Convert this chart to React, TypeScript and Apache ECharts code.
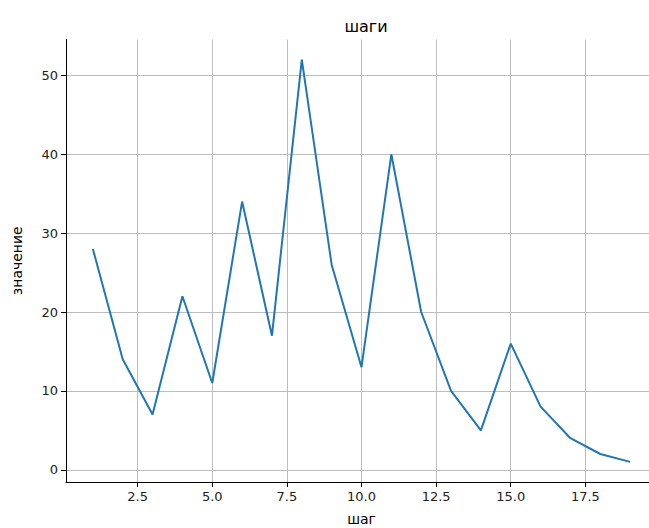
import React, { useEffect, useRef } from "react";
import * as echarts from "echarts";

const steps = [1, 2, 3, 4, 5, 6, 7, 8, 9, 10, 11, 12, 13, 14, 15, 16, 17, 18, 19];
const values = [28, 14, 7, 22, 11, 34, 17, 52, 26, 13, 40, 20, 10, 5, 16, 8, 4, 2, 1];
const xTicks = [2.5, 5.0, 7.5, 10.0, 12.5, 15.0, 17.5];
const yTicks = [0, 10, 20, 30, 40, 50];
const titleText = "шаги";
const xName = "шаг";
const yName = "значение";

export default function App() {
  const ref = useRef<HTMLDivElement>(null);
  useEffect(() => {
    if (!ref.current) return;
    const chart = echarts.init(ref.current, null, { renderer: "svg" });
    const xmin = 1 - 0.05 * 18;
    const xmax = 19 + 0.05 * 18;
    const ymin = 1 - 0.05 * 51;
    const ymax = 52 + 0.05 * 51;
    const font = "DejaVu Sans";
    chart.setOption({
      animation: false,
      title: {
        text: titleText,
        left: 361,
        textAlign: "center",
        top: 13,
        textStyle: { fontFamily: font, fontSize: 16, fontWeight: "normal", color: "#000" },
      },
      grid: {
        left: 66,
        top: 39.5,
        width: 591,
        height: 442.5,
        containLabel: false,
        outerBoundsMode: "none",
      },
      xAxis: {
        type: "value",
        min: xmin,
        max: xmax,
        name: xName,
        nameLocation: "middle",
        nameGap: 29,
        nameTextStyle: { fontFamily: font, fontSize: 14, color: "#000", lineHeight: 16 },
        axisLine: { show: true, onZero: false, lineStyle: { color: "#000", width: 1 } },
        axisTick: { show: true, length: 5, customValues: xTicks, lineStyle: { color: "#000" } },
        axisLabel: {
          customValues: xTicks,
          formatter: (v: number) => v.toFixed(1),
          fontFamily: font,
          fontSize: 13,
          color: "#222",
          margin: 8,
        },
        splitLine: { show: true, lineStyle: { color: "#bdbdbd", width: 1 } },
      },
      yAxis: {
        type: "value",
        min: ymin,
        max: ymax,
        name: yName,
        nameLocation: "middle",
        nameGap: 42,
        nameRotate: 90,
        nameTextStyle: { fontFamily: font, fontSize: 14, color: "#000" },
        axisLine: { show: true, onZero: false, lineStyle: { color: "#000", width: 1 } },
        axisTick: { show: true, length: 5, customValues: yTicks, lineStyle: { color: "#000" } },
        axisLabel: {
          customValues: yTicks,
          formatter: (v: number) => String(v),
          fontFamily: font,
          fontSize: 13,
          color: "#222",
          margin: 8,
        },
        splitLine: { show: true, lineStyle: { color: "#bdbdbd", width: 1 } },
      },
      series: [
        {
          type: "line",
          data: steps.map((s, i) => [s, values[i]]),
          showSymbol: false,
          lineStyle: { color: "#1f77b4", width: 2 },
          itemStyle: { color: "#1f77b4" },
        },
      ],
    });
    return () => chart.dispose();
  }, []);
  return (
    <div
      ref={ref}
      style={{ position: "fixed", left: 0, top: 0, width: 649, height: 528, background: "#fff" }}
    />
  );
}
